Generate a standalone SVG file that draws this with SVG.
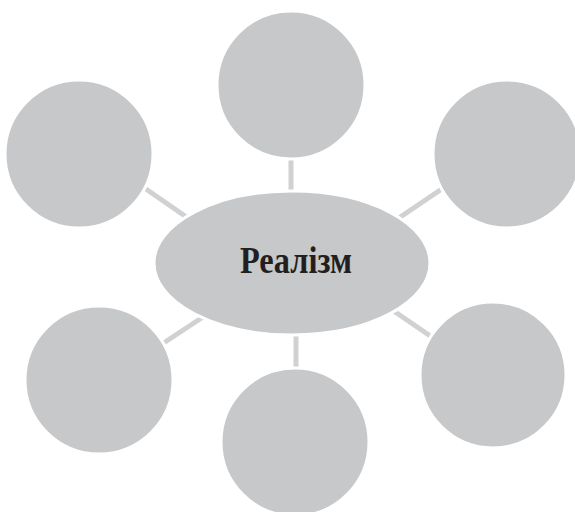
<svg xmlns="http://www.w3.org/2000/svg" width="575" height="512" viewBox="0 0 575 512">
<style>
.node{fill:#c7c8ca;stroke:#ffffff;stroke-width:3}
.conn line{stroke:#d0d1d3;stroke-width:5;stroke-linecap:butt}
.label{font-family:"Liberation Serif","Times New Roman",serif;font-weight:bold;font-size:37px;fill:#231f20}
</style>
<rect width="575" height="512" fill="#ffffff"/>
<g id="connectors" class="conn">
<line x1="291" y1="145" x2="291" y2="200"/>
<line x1="130" y1="178" x2="198" y2="225"/>
<line x1="455" y1="180" x2="390" y2="224"/>
<line x1="150" y1="352" x2="212" y2="311"/>
<line x1="296" y1="320" x2="296" y2="375"/>
<line x1="385" y1="305" x2="442" y2="344"/>
</g>
<g id="node-top"><circle class="node" cx="291" cy="85" r="74"/></g>
<g id="node-upper-left"><circle class="node" cx="79" cy="154" r="74"/></g>
<g id="node-upper-right"><circle class="node" cx="507" cy="154" r="74"/></g>
<g id="node-lower-left"><circle class="node" cx="99" cy="380" r="74"/></g>
<g id="node-bottom"><circle class="node" cx="295" cy="442" r="74"/></g>
<g id="node-lower-right"><circle class="node" cx="493" cy="375" r="73"/></g>
<g id="node-center">
<ellipse class="node" cx="292" cy="263" rx="138" ry="72"/>
<text class="label" x="296" y="273" text-anchor="middle" textLength="112" lengthAdjust="spacingAndGlyphs">Реалізм</text>
</g>
</svg>
